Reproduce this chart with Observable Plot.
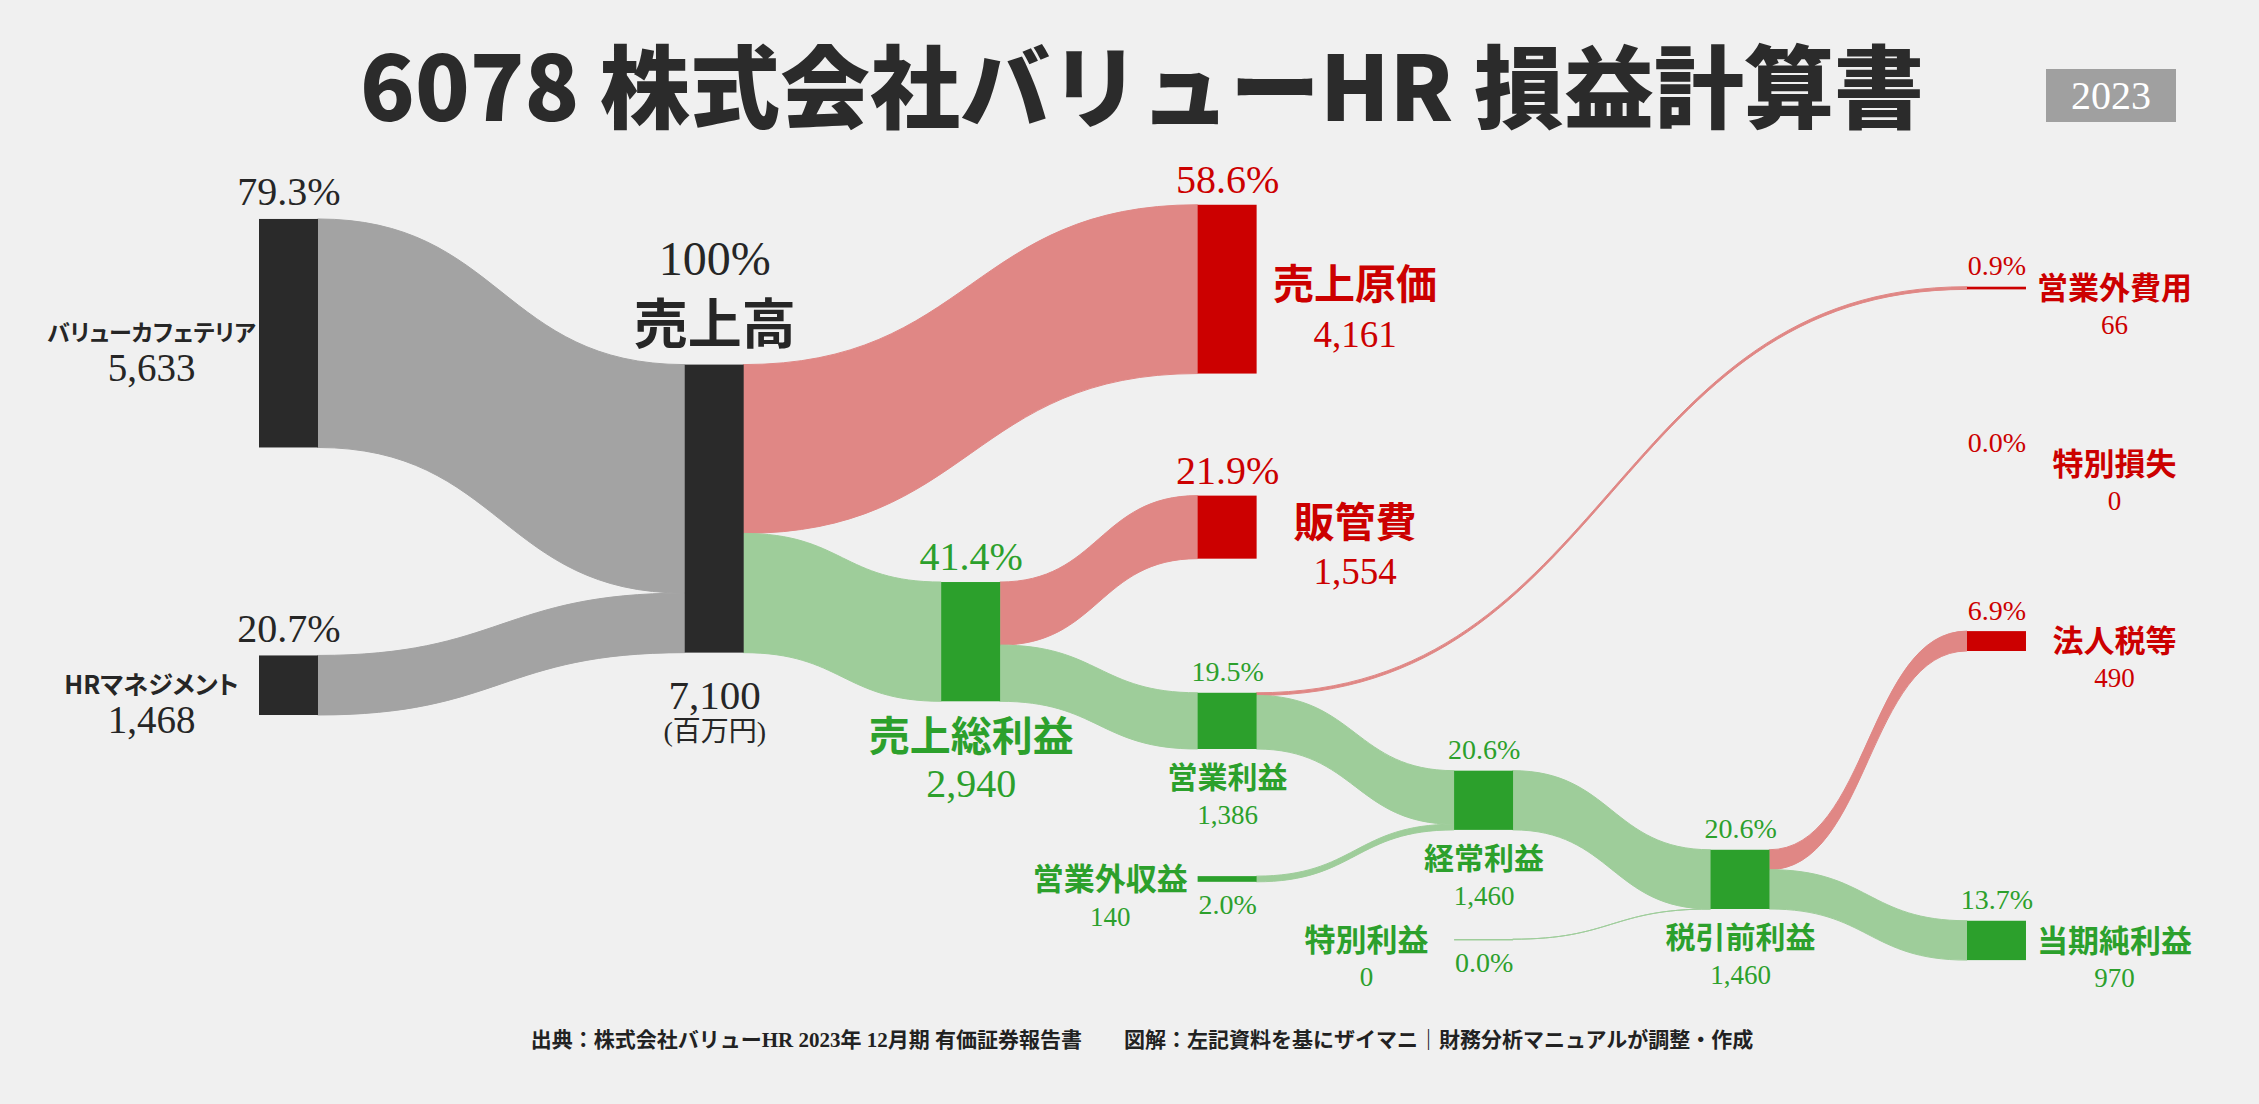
<!DOCTYPE html>
<html><head><meta charset="utf-8">
<script src="https://cdn.jsdelivr.net/npm/d3@7"></script>
<script src="https://cdn.jsdelivr.net/npm/@observablehq/plot@0.6"></script>
<style>
html,body{margin:0;padding:0;background:#f0f0f0;}
#page{position:relative;width:2259px;height:1104px;overflow:hidden;background:#f0f0f0;}
#title{position:absolute;left:0;width:2284px;top:37px;text-align:center;font-family:'Noto Sans CJK JP',sans-serif;font-weight:900;font-size:90px;line-height:1;color:#2b2b2b;white-space:nowrap;}
#year{position:absolute;left:2046px;top:69px;width:130px;height:53px;background:#a0a0a0;color:#fff;font-family:'Liberation Serif',serif;font-size:40px;line-height:53px;text-align:center;}
#chart{position:absolute;left:0;top:150px;}
#chart g[font-weight="bold"]{font-feature-settings:"palt";}
#footer{position:absolute;left:0;width:2284px;top:1027px;text-align:center;font-family:'Liberation Serif','Noto Sans CJK JP',serif;font-weight:bold;font-size:21px;line-height:26px;color:#222;white-space:pre;}
</style>
</head><body>
<div id="page">
  <div id="title"></div>
  <div id="year"></div>
  <div id="chart"></div>
  <div id="footer"></div>
</div>
<script>
// ---- data ----
const titleText = "6078 株式会社バリューHR 損益計算書";
const yearText = "2023";
const sourceText = "出典：株式会社バリューHR 2023年 12月期 有価証券報告書　　図解：左記資料を基にザイマニ｜財務分析マニュアルが調整・作成";
const unitNote = "(百万円)";

const nodeNames = ["バリューカフェテリア","HRマネジメント","売上高","売上原価","売上総利益","販管費","営業利益","営業外収益","営業外費用","経常利益","特別利益","特別損失","税引前利益","法人税等","当期純利益"];
const nodeValues = [5633,1468,7100,4161,2940,1554,1386,140,66,1460,0,0,1460,490,970];
const nodePercents = ["79.3%","20.7%","100%","58.6%","41.4%","21.9%","19.5%","2.0%","0.9%","20.6%","0.0%","0.0%","20.6%","6.9%","13.7%"];
const nodeKinds = ["revenue","revenue","revenue","cost","profit","cost","profit","profit","cost","profit","profit","cost","profit","cost","profit"];

const linkSources = [0,1,2,2,4,4,6,6,7,9,10,12,12];
const linkTargets = [2,2,3,4,5,6,8,9,9,12,12,13,14];
const linkValues  = [5633,1468,4161,2940,1554,1386,66,1320,140,1460,0,490,970];

// ---- layout & style (not data) ----
const layout = {
  stagePos: [0, 1.66, 2.66, 3.66, 4.66, 5.66, 6.66],
  nodeStage: [0,0,1,3,2,3,3,3,6,4,4,6,5,6,6],
  nodeTop: [1700,12460,5290,1350,10650,8520,13380,17900,3370,15300,19455,7740,17250,11860,19000],
  labelStyle: ["side","side","hub","cost","gross","cost","mid","inflow","right","mid","inflow","right","mid","right","right"],
  sideNameSize: [23, 25],
  barW: 0.23,
  width: 2259, height: 860,
  xRange: [259, 1967], xMax: 6.66, yMax: 21200
};
const nodeColor = {revenue: "#2a2a2a", cost: "#cc0000", profit: "#2ca02c"};
const linkColor = {revenue: "#a3a3a3", cost: "#e08785", profit: "#9ecd9a"};
const textColor = {revenue: "#262626", cost: "#cc0000", profit: "#2ca02c"};
const serif = "'Liberation Serif','Noto Sans CJK JP',serif";
const sans = "'Noto Sans CJK JP',sans-serif";

document.getElementById("title").textContent = titleText;
document.getElementById("year").textContent = yearText;
document.getElementById("footer").textContent = sourceText;

const pxPerCol = (layout.xRange[1] - layout.xRange[0]) / layout.xMax;
const pxPerUnit = layout.height / layout.yMax;
const fmt = d3.format(",");

const nodes = nodeNames.map((name, i) => ({
  i, name, value: nodeValues[i], pct: nodePercents[i], kind: nodeKinds[i],
  x: layout.stagePos[layout.nodeStage[i]], top: layout.nodeTop[i],
  outOff: 0, inOff: 0, hasOut: false
}));

// links as bands
const linkRows = [];
linkValues.forEach((v, k) => {
  const s = nodes[linkSources[k]], t = nodes[linkTargets[k]];
  s.hasOut = true;
  const sy = s.top + s.outOff, ty = t.top + t.inOff;
  s.outOff += v; t.inOff += v;
  const color = linkColor[t.kind];
  linkRows.push({id: k, x: s.x + layout.barW, y1: sy, y2: sy + v, color});
  linkRows.push({id: k, x: t.x, y1: ty, y2: ty + v, color});
});

const barNodes = nodes.filter(n => n.value > 0);
const zeroBars = nodes.filter(n => n.value === 0 && n.hasOut);

// labels
const serifLabels = [], sansLabels = [];
function lab(arr, xc, yu, dx, dy, text, size, color) {
  arr.push({x: xc + dx / pxPerCol, y: yu + dy / pxPerUnit, text, size, color});
}
nodes.forEach((n, i) => {
  const c = textColor[n.kind];
  const cx = n.x + layout.barW / 2, left = n.x, right = n.x + layout.barW;
  const top = n.top, bot = n.top + n.value, mid = n.top + n.value / 2;
  const val = fmt(n.value);
  switch (layout.labelStyle[i]) {
    case "side":
      lab(serifLabels, cx, top, 0, -27, n.pct, 40, c);
      lab(sansLabels, left, mid, -108, 0, n.name, layout.sideNameSize[i], c);
      lab(serifLabels, left, mid, -108, 35, val, 39, c);
      break;
    case "hub":
      lab(serifLabels, cx, top, 0, -105, n.pct, 48, c);
      lab(sansLabels, cx, top, 0, -38, n.name, 54, c);
      lab(serifLabels, cx, bot, 0, 43, val, 41, c);
      lab(serifLabels, cx, bot, 0, 79, unitNote, 28, c);
      break;
    case "gross":
      lab(serifLabels, cx, top, 0, -25, n.pct, 40, c);
      lab(sansLabels, cx, bot, 0, 36, n.name, 41, c);
      lab(serifLabels, cx, bot, 0, 82, val, 40, c);
      break;
    case "cost":
      lab(serifLabels, cx, top, 0, -25, n.pct, 40, c);
      lab(sansLabels, right, mid, 98, -4, n.name, 41, c);
      lab(serifLabels, right, mid, 98, 45, val, 37, c);
      break;
    case "mid":
      lab(serifLabels, cx, top, 0, -21, n.pct, 28, c);
      lab(sansLabels, cx, bot, 0, 29, n.name, 30, c);
      lab(serifLabels, cx, bot, 0, 66, val, 27, c);
      break;
    case "inflow":
      lab(serifLabels, cx, bot, 0, 23, n.pct, 28, c);
      lab(sansLabels, left, mid, -88, 1, n.name, 31, c);
      lab(serifLabels, left, mid, -88, 38, val, 27, c);
      break;
    case "right":
      lab(serifLabels, cx, top, 0, -21, n.pct, 28, c);
      lab(sansLabels, right, mid, 88, 1, n.name, 31, c);
      lab(serifLabels, right, mid, 88, 37, val, 27, c);
      break;
  }
});

const chart = Plot.plot({
  width: layout.width, height: layout.height,
  margin: 0,
  x: {domain: [0, layout.xMax], range: layout.xRange, axis: null},
  y: {domain: [0, layout.yMax], range: [0, layout.height], axis: null},
  color: {type: "identity"},
  style: {background: "transparent", overflow: "visible"},
  marks: [
    Plot.area(linkRows, {x1: "x", y1: "y1", y2: "y2", z: "id", fill: "color", stroke: "color", strokeWidth: 1, curve: "bump-x"}),
    Plot.ruleY(zeroBars, {x1: d => d.x, x2: d => d.x + layout.barW, y: "top", stroke: d => linkColor[d.kind], strokeWidth: 1.5}),
    Plot.rect(barNodes, {x1: d => d.x, x2: d => d.x + layout.barW, y1: "top", y2: d => d.top + d.value, fill: d => nodeColor[d.kind]}),
    Plot.text(serifLabels, {x: "x", y: "y", text: "text", fontSize: "size", fill: "color", fontFamily: serif, textAnchor: "middle", lineAnchor: "middle"}),
    Plot.text(sansLabels, {x: "x", y: "y", text: "text", fontSize: "size", fill: "color", fontFamily: sans, fontWeight: "bold", textAnchor: "middle", lineAnchor: "middle"})
  ]
});
document.getElementById("chart").appendChild(chart);
</script>
</body></html>
